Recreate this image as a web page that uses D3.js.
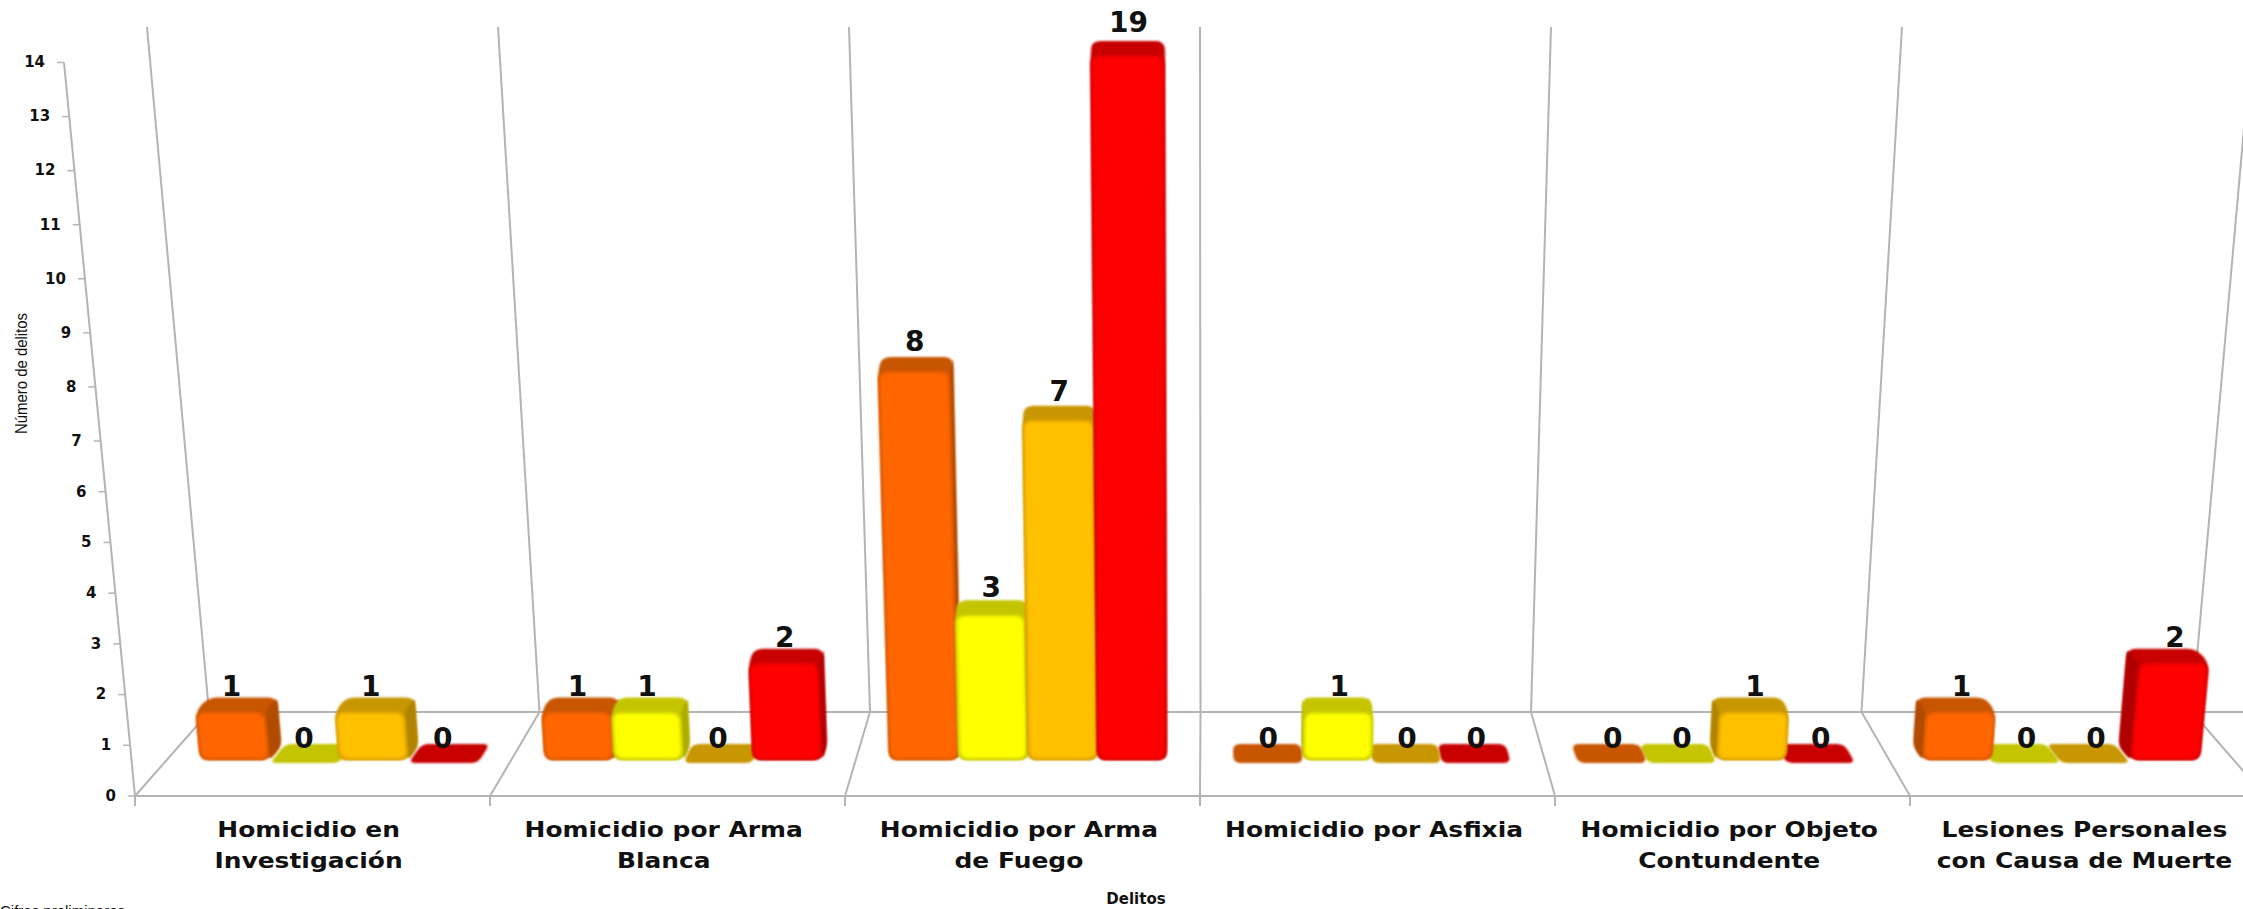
<!DOCTYPE html>
<html>
<head>
<meta charset="utf-8">
<script src="https://cdn.jsdelivr.net/npm/d3@7"></script>
<style>
  html, body { margin: 0; padding: 0; background: #fff; overflow: hidden; }
  text { font-family: "DejaVu Sans", sans-serif; fill: #111; }
</style>
</head>
<body>
<div id="chart"></div>
<script>
// Data
var categorias = [
  "Homicidio en Investigación",
  "Homicidio por Arma Blanca",
  "Homicidio por Arma de Fuego",
  "Homicidio por Asfixia",
  "Homicidio por Objeto Contundente",
  "Lesiones Personales con Causa de Muerte"
];
var etiquetas = [
  ["Homicidio en", "Investigación"],
  ["Homicidio por Arma", "Blanca"],
  ["Homicidio por Arma", "de Fuego"],
  ["Homicidio por Asfixia"],
  ["Homicidio por Objeto", "Contundente"],
  ["Lesiones Personales", "con Causa de Muerte"]
];
var serieNaranja = [1, 1, 8, 0, 0, 1];
var serieAmarilla = [0, 1, 3, 1, 0, 0];
var serieOcre = [1, 0, 7, 0, 1, 0];
var serieRoja = [0, 2, 19, 0, 0, 2];
var yTicks = [0, 1, 2, 3, 4, 5, 6, 7, 8, 9, 10, 11, 12, 13, 14];

var series = [serieNaranja, serieAmarilla, serieOcre, serieRoja];
var colores = ["#ff6600", "#ffff00", "#ffc000", "#ff0000"];
var oscuros = ["#c85500", "#c4c400", "#c89600", "#c80000"];
var bordes = ["#e05a00", "#d0d000", "#e0a400", "#e00000"];

var svgWidth = 2243;
var svgHeight = 909;
var centro = 1200;   // vanishing point of the 3D floor
var pisoFrente = 796;
var pisoFondo = 712;
var muroTop = 27;

var svg = d3.select("#chart").append("svg")
  .attr("width", svgWidth)
  .attr("height", svgHeight);

var defs = svg.append("defs");
defs.append("filter").attr("id", "suave")
  .attr("x", "-20%").attr("y", "-20%").attr("width", "140%").attr("height", "140%")
  .append("feGaussianBlur").attr("stdDeviation", 0.8);
defs.append("filter").attr("id", "bisel")
  .attr("x", "-20%").attr("y", "-20%").attr("width", "140%").attr("height", "140%")
  .append("feGaussianBlur").attr("stdDeviation", 1.5);

// Scales
var yAxisScale = d3.scaleLinear().domain([0, 7, 14]).range([796, 441, 62.5]);
var yAxisX = d3.scaleLinear().domain([796, 62.5]).range([135, 64]);
var yBar = d3.scaleLinear().domain([0, 14.5]).range([760, 55]).clamp(true);   // the tall bar is cut off by the top of the plot
var x0 = d3.scaleBand().domain(categorias).range([166.5, 2233.5]);
var x1 = d3.scaleBand().domain(d3.range(4)).range([33.5, 311]);
var xFrente = d3.scaleBand().domain(categorias).range([131, 2262]);
var divFrente = d3.scaleLinear().domain([0, 6]).range([135, 2265]);
var divFondo = d3.scaleLinear().domain([0, 6]).range([209, 2192]);
var divTop = d3.scaleLinear().domain([0, 6]).range([147, 2253]);

// Walls and floor
var gris = "#b4b4b4";
var rejilla = svg.append("g").attr("stroke", gris).attr("stroke-width", 2).attr("fill", "none");
d3.range(7).forEach(function(i) {
  rejilla.append("line")
    .attr("x1", divTop(i)).attr("y1", muroTop)
    .attr("x2", divFondo(i)).attr("y2", pisoFondo);
  rejilla.append("line")
    .attr("x1", divFondo(i)).attr("y1", pisoFondo)
    .attr("x2", divFrente(i)).attr("y2", pisoFrente);
  rejilla.append("line")
    .attr("x1", divFrente(i)).attr("y1", pisoFrente)
    .attr("x2", divFrente(i)).attr("y2", pisoFrente + 10);
});
rejilla.append("line").attr("x1", divFondo(0)).attr("y1", pisoFondo).attr("x2", svgWidth).attr("y2", pisoFondo);
rejilla.append("line").attr("x1", divFrente(0)).attr("y1", pisoFrente).attr("x2", svgWidth).attr("y2", pisoFrente);

// Y axis, the ticks follow the slanted wall edge
var yAxis = svg.append("g")
  .call(d3.axisLeft(yAxisScale).tickValues(yTicks).tickSize(7).tickPadding(12));
yAxis.select(".domain").remove();
yAxis.selectAll(".tick")
  .attr("transform", function(d) {
    return "translate(" + yAxisX(yAxisScale(d)) + "," + yAxisScale(d) + ")";
  });
yAxis.selectAll(".tick line").attr("stroke", gris).attr("stroke-width", 1.5);
yAxis.selectAll(".tick text")
  .style("font-size", "15px").style("font-weight", "bold").style("font-family", "DejaVu Sans");
svg.append("line")
  .attr("x1", yAxisX(796)).attr("y1", 796)
  .attr("x2", yAxisX(62.5)).attr("y2", 62.5)
  .attr("stroke", gris).attr("stroke-width", 2);

// Projection used for the boxes: things lean away from the centre as they rise
function proy(base, h, prof) {
  var esc = (1 + 0.0000915 * h) * (1 - 0.0009 * prof);
  return [centro + (base - centro) * esc, 760 - h - prof];
}

// Polygon with its corners cut by a curve, the cut never passes half of an edge
function redondeado(pts, r) {
  var p = d3.path();
  var n = pts.length;
  function hacia(a, b) {
    var len = Math.hypot(b[0] - a[0], b[1] - a[1]);
    var t = Math.min(r, len / 2) / len;
    return [a[0] + (b[0] - a[0]) * t, a[1] + (b[1] - a[1]) * t];
  }
  pts.forEach(function(a, i) {
    var prev = pts[(i + n - 1) % n], next = pts[(i + 1) % n];
    var e = hacia(a, prev), s = hacia(a, next);
    if (i === 0) p.moveTo(e[0], e[1]); else p.lineTo(e[0], e[1]);
    p.quadraticCurveTo(a[0], a[1], s[0], s[1]);
  });
  p.closePath();
  return p.toString();
}

// Flatten the bars into a list, outer ones first so the inner ones cover their sides
var barras = [];
categorias.forEach(function(c, i) {
  series.forEach(function(s, j) {
    barras.push({ cat: c, serie: j, valor: s[i] });
  });
});
barras.forEach(function(d) {
  d.izq = x0(d.cat) + x1(d.serie);
  d.der = d.izq + x1.bandwidth();
  d.h = 760 - yBar(d.valor);
});
barras.sort(function(a, b) {
  return Math.abs((b.izq + b.der) / 2 - centro) - Math.abs((a.izq + a.der) / 2 - centro);
});

var marcas = svg.append("g");
var prof = 14;

barras.forEach(function(d) {
  var g = marcas.append("g");
  if (d.valor === 0) {
    // empty bar, only a flat tile on the floor
    g.append("path")
      .attr("d", redondeado([proy(d.izq, -3, 0), proy(d.der, -3, 0), proy(d.der, -3, 19), proy(d.izq, -3, 19)], 7))
      .attr("fill", oscuros[d.serie])
      .attr("filter", "url(#suave)");
    return;
  }
  var bl = proy(d.izq, 0, 0), br = proy(d.der, 0, 0);
  var tl = proy(d.izq, d.h, 0), tr = proy(d.der, d.h, 0);
  var btl = proy(d.izq, d.h, prof), btr = proy(d.der, d.h, prof);
  var bbl = proy(d.izq, 0, prof), bbr = proy(d.der, 0, prof);
  var aLaIzq = (d.izq + d.der) / 2 < centro;

  // outline of the top and side faces behind the front
  var contorno = aLaIzq ? [tl, btl, btr, bbr, br, bl] : [tr, btr, btl, bbl, bl, br];
  g.append("path").attr("d", redondeado(contorno, 9)).attr("fill", oscuros[d.serie]).attr("filter", "url(#suave)");
  var lado = aLaIzq ? [tr, btr, bbr, br] : [tl, btl, bbl, bl];
  g.append("path").attr("d", redondeado(lado, 5))
    .attr("fill", d3.color(oscuros[d.serie]).darker(0.35))
    .attr("filter", "url(#suave)");

  // front face with a soft bevel
  g.append("path").attr("d", redondeado([tl, tr, br, bl], 9)).attr("fill", bordes[d.serie]).attr("filter", "url(#suave)");
  var ins = [[tl[0] + 2, tl[1] + 2], [tr[0] - 2, tr[1] + 2], [br[0] - 2, br[1] - 2], [bl[0] + 2, bl[1] - 2]];
  g.append("path").attr("d", redondeado(ins, 8)).attr("fill", colores[d.serie]).attr("filter", "url(#bisel)");
});

// Value labels
var etiquetasValor = svg.append("g")
  .attr("text-anchor", "middle")
  .style("font-size", "28px")
  .style("font-weight", "bold");
barras.forEach(function(d) {
  var cx, cy;
  if (d.valor === 0) {
    cx = (d.izq + d.der) / 2;
    cy = 748;
  } else {
    cx = (proy(d.izq, d.h, 0)[0] + proy(d.der, d.h, 0)[0]) / 2 + 1;
    cy = proy(d.izq, d.h, prof)[1] - 1 - d.h * 0.012;
  }
  etiquetasValor.append("text").attr("x", cx).attr("y", cy).text(d.valor);
});

// Category labels, stretched a little like the reference
var xAxis = svg.append("g")
  .attr("transform", "translate(0," + 837 + ")")
  .call(d3.axisBottom(xFrente).tickSize(0).tickPadding(0));
xAxis.select(".domain").remove();
xAxis.selectAll(".tick text").each(function(d, i) {
  var t = d3.select(this).text(null).attr("y", 0).attr("dy", null)
    .attr("transform", "scale(1.16,1)")
    .style("font-size", "21.5px").style("font-weight", "bold").style("font-family", "DejaVu Sans");
  etiquetas[i].forEach(function(linea, k) {
    t.append("tspan").attr("x", 0).attr("y", k * 31).text(linea);
  });
});

// Axis titles and source note
svg.append("text")
  .attr("x", 1136).attr("y", 904)
  .attr("text-anchor", "middle")
  .style("font-size", "15px").style("font-weight", "bold")
  .text("Delitos");

svg.append("text")
  .attr("transform", "translate(27,434) rotate(-90)")
  .attr("textLength", 121)
  .attr("lengthAdjust", "spacingAndGlyphs")
  .style("font-family", "Liberation Sans")
  .style("font-size", "16px")
  .text("Número de delitos");

svg.append("text")
  .attr("x", 0).attr("y", 916)
  .style("font-family", "Liberation Sans")
  .style("font-size", "15px")
  .text("Cifras preliminares");
</script>
</body>
</html>
